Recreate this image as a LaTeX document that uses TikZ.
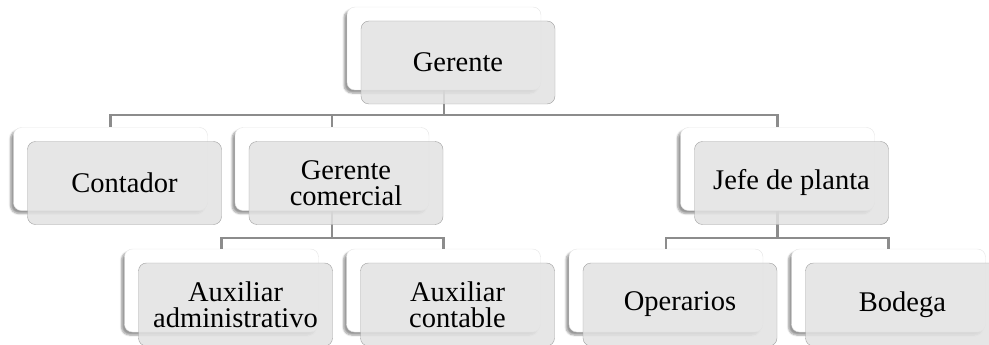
\documentclass[tikz,border=0pt]{standalone}
\usepackage{fontspec}
\setmainfont{Liberation Serif}
\usepackage{tikz}
\usetikzlibrary{shadows.blur}
\definecolor{boxgray}{RGB}{226,226,226}
\definecolor{edgegray}{RGB}{160,160,160}
\definecolor{linegray}{RGB}{140,140,140}
\tikzstyle{backbox} = [draw=white!90!black, fill=white, rounded corners=8pt,
	minimum width=194pt, minimum height=83pt, inner sep=0pt,
	blur shadow={shadow xshift=-3pt, shadow yshift=-3pt, shadow blur steps=6, shadow opacity=40}]
\tikzstyle{frontbox} = [draw=edgegray, fill=boxgray, fill opacity=0.85, text opacity=1,
	rounded corners=8pt, minimum width=194pt, minimum height=83pt, inner sep=2pt,
	align=center, font=\fontsize{28.5}{26}\selectfont]
\tikzstyle{link} = [draw=linegray, line width=2.2pt]

\begin{document}
\begin{tikzpicture}[x=1pt,y=1pt]
	\useasboundingbox (0,0) rectangle (989,-345);
	
	% ------------------- back boxes ------------------- %
	\node[backbox] (gerente-b)   at (444,-48.5) {};
	\node[backbox] (contador-b)  at (110.5,-169) {};
	\node[backbox] (comercial-b) at (332,-169) {};
	\node[backbox] (jefe-b)      at (777.5,-169) {};
	\node[backbox] (auxadm-b)    at (221.5,-290.5) {};
	\node[backbox] (auxcont-b)   at (443.5,-290.5) {};
	\node[backbox] (operarios-b) at (666,-290.5) {};
	\node[backbox] (bodega-b)    at (888.5,-290.5) {};
	
	% ------------------- connectors ------------------- %
	\draw[link] (gerente-b.south) -- ++(0,-25) -| (contador-b.north);
	\draw[link] (gerente-b.south) -- ++(0,-25) -| (comercial-b.north);
	\draw[link] (gerente-b.south) -- ++(0,-25) -| (jefe-b.north);
	\draw[link] (comercial-b.south) -- ++(0,-27) -| (auxadm-b.north);
	\draw[link] (comercial-b.south) -- ++(0,-27) -| (auxcont-b.north);
	\draw[link] (jefe-b.south) -- ++(0,-27) -| (operarios-b.north);
	\draw[link] (jefe-b.south) -- ++(0,-27) -| (bodega-b.north);
	
	% ------------------- front boxes ------------------- %
	\node[frontbox] (gerente)   at (458,-62.5) {Gerente};
	\node[frontbox] (contador)  at (124.5,-183) {Contador};
	\node[frontbox] (comercial) at (346,-183) {Gerente\\comercial};
	\node[frontbox] (jefe)      at (791.5,-183) {Jefe de planta};
	\node[frontbox] (auxadm)    at (235.5,-304.5) {Auxiliar\\administrativo};
	\node[frontbox] (auxcont)   at (457.5,-304.5) {Auxiliar\\contable};
	\node[frontbox] (operarios) at (680,-304.5) {Operarios};
	\node[frontbox] (bodega)    at (902.5,-304.5) {Bodega};
	
\end{tikzpicture}
\end{document}
